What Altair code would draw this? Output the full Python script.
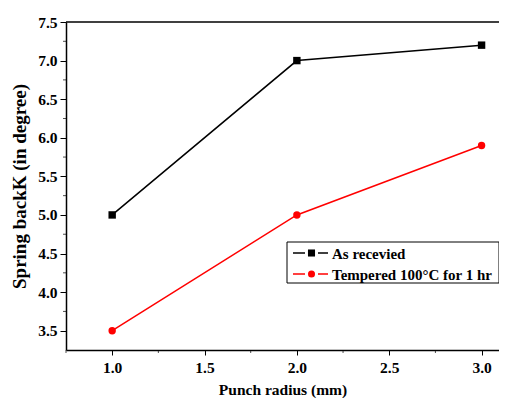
import altair as alt
import pandas as pd

# ---- data ----
radius = [1.0, 2.0, 3.0]
as_received = [5.0, 7.0, 7.2]
tempered = [3.5, 5.0, 5.9]
series_names = ["As recevied", "Tempered 100°C for 1 hr"]
series_colors = ["#000000", "#ff0000"]
series_shapes = ["square", "circle"]
x_major = [1.0, 1.5, 2.0, 2.5, 3.0]
x_minor = [0.75, 1.25, 1.75, 2.25, 2.75]
y_major = [3.5, 4.0, 4.5, 5.0, 5.5, 6.0, 6.5, 7.0, 7.5]
y_minor = [3.75, 4.25, 4.75, 5.25, 5.75, 6.25, 6.75, 7.25]

rows = []
for r, v in zip(radius, as_received):
    rows.append({"radius": r, "spring": v, "series": series_names[0]})
for r, v in zip(radius, tempered):
    rows.append({"radius": r, "spring": v, "series": series_names[1]})
df = pd.DataFrame(rows)

W, H = 433, 328
FONT = "Liberation Serif, Times New Roman, Times, serif"

xscale = alt.Scale(domain=[0.75, 0.75 + W / 184.7], nice=False, zero=False)
yscale = alt.Scale(domain=[3.25, 7.5], nice=False, zero=False)
cscale = alt.Scale(domain=series_names, range=series_colors)
sscale = alt.Scale(domain=series_names, range=series_shapes)

xaxis = alt.Axis(values=x_major, format=".1f", tickSize=5, title="Punch radius (mm)",
                 grid=False, labelPadding=5, titlePadding=7, labelFlush=False,
                 labelOverlap=False, titleFontSize=15.5)
yaxis = alt.Axis(values=y_major, format=".1f", tickSize=6, title="Spring backK (in degree)",
                 grid=False, labelPadding=3, titlePadding=8, labelFlush=False,
                 labelOverlap=False, titleFontSize=19)

base = alt.Chart(df)

lines = base.mark_line(strokeWidth=1.5).encode(
    x=alt.X("radius:Q", scale=xscale, axis=xaxis),
    y=alt.Y("spring:Q", scale=yscale, axis=yaxis),
    color=alt.Color("series:N", scale=cscale, legend=None),
    detail="series:N",
)

points = base.mark_point(filled=True, opacity=1, size=55).encode(
    x=alt.X("radius:Q", scale=xscale),
    y=alt.Y("spring:Q", scale=yscale),
    color=alt.Color("series:N", scale=cscale, legend=None),
    shape=alt.Shape("series:N", scale=sscale, legend=None),
)

# minor ticks
xminor = alt.Chart(pd.DataFrame({"v": x_minor})).mark_tick(
    color="black", thickness=1, size=3
).encode(x=alt.X("v:Q", scale=xscale), y=alt.value(H + 1.5))
yminor = alt.Chart(pd.DataFrame({"v": y_minor})).mark_tick(
    color="black", thickness=1, size=3
).encode(y=alt.Y("v:Q", scale=yscale), x=alt.value(-1.5))

frame_top = alt.Chart(pd.DataFrame({"a": [0]})).mark_rule(color="black", strokeWidth=1.5).encode(
    x=alt.value(0), x2=alt.value(W), y=alt.value(0)
)

# legend (box + entries)
LX, LY, LW, LH = 221, 220, W - 221, 41
legend_box = alt.Chart(pd.DataFrame({"a": [0]})).mark_rect(
    fill="white", stroke="black", strokeWidth=1
).encode(x=alt.value(LX), x2=alt.value(LX + LW), y=alt.value(LY), y2=alt.value(LY + LH))

legend_layers = [legend_box]
for i, (name, col, shp) in enumerate(zip(series_names, series_colors, series_shapes)):
    yy = LY + 11 + 21 * i
    one = alt.Chart(pd.DataFrame({"a": [0]}))
    legend_layers.append(one.mark_rule(color=col, strokeWidth=1.5).encode(
        x=alt.value(LX + 6), x2=alt.value(LX + 18), y=alt.value(yy)))
    legend_layers.append(one.mark_rule(color=col, strokeWidth=1.5).encode(
        x=alt.value(LX + 31), x2=alt.value(LX + 41), y=alt.value(yy)))
    legend_layers.append(one.mark_point(color=col, filled=True, opacity=1, shape=shp, size=50).encode(
        x=alt.value(LX + 24.5), y=alt.value(yy)))
    legend_layers.append(one.mark_text(
        align="left", baseline="middle", font=FONT, fontWeight="bold", fontSize=15, color="black"
    ).encode(x=alt.value(LX + 45), y=alt.value(yy + 1), text=alt.value(name)))

chart = alt.layer(frame_top, xminor, yminor, lines, points, *legend_layers).properties(
    width=W, height=H,
    autosize=alt.AutoSizeParams(type="none"),
    padding={"left": 58, "top": 14, "right": 0, "bottom": 48},
).configure_view(stroke=None).configure_axis(
    labelFont=FONT, labelFontWeight="bold", labelFontSize=15.5, labelColor="black",
    titleFont=FONT, titleFontWeight="bold", titleColor="black",
    domainColor="black", domainWidth=1.5, tickColor="black", tickWidth=1,
)

chart.save("out.html", embed_options={"renderer": "svg", "actions": False})
